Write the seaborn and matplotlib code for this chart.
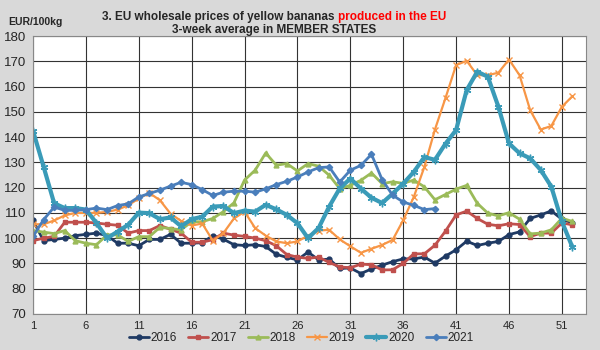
import matplotlib
matplotlib.use("Agg")
import matplotlib.pyplot as plt
import seaborn as sns
import numpy as np
import pandas as pd

weeks = list(range(1, 53))
tick_weeks = [1, 6, 11, 16, 21, 26, 31, 36, 41, 46, 51]
years = ["2016", "2017", "2018", "2019", "2020", "2021"]

p2016 = [107, 99, 99.5, 100, 101, 101.5, 102, 101, 98, 98,
         97, 99.5, 99.5, 101.5, 98, 98, 98.2, 101, 99.6, 97.4,
         97.1, 97.4, 96.7, 93.6, 92.4, 91.4, 94.5, 91.4, 91.7, 88,
         88.2, 86, 87.8, 89.3, 90.7, 91.8, 91.8, 92.5, 90.1, 92.9,
         95.4, 98.8, 97.1, 98, 98.7, 101.4, 102.5, 107.8, 109.2, 110.8, 107.5, 106]
p2017 = [99, 100, 100.7, 106.3, 106.3, 106.3, 106, 105.5, 105.1, 102,
         103, 103, 105, 103.5, 102, 98.4, 98.4, 99.4, 102, 101.2,
         100.7, 100, 99, 97, 93.5, 92.5, 92, 92.5, 90.4, 88.6,
         88.3, 89.7, 89.5, 87.4, 87.5, 90, 93.8, 93.8, 97.2, 102.8,
         109.2, 110.7, 107.8, 105.5, 104.9, 105.7, 105.4, 100.6, 102, 102, 106, 105.3]
p2018 = [103, 102.4, 101.8, 103, 99, 98, 97.4, 101.3, 101.3, 98.7,
         100.6, 100.6, 104.3, 103.8, 103.3, 106.5, 106.5, 107.8, 110.5, 114,
         123, 126.9, 133.7, 128.9, 129.5, 126.6, 129.5, 128.5, 124.9, 119.6,
         120.9, 122.9, 125.8, 121.6, 122.3, 121.7, 123, 120.3, 115.2, 117.3,
         119.4, 120.9, 113.8, 109.9, 108.8, 110.1, 107.5, 101.7, 102, 103.3, 107.9, 106.6]
p2019 = [105.5, 105.5, 107, 109, 110, 110, 110, 110.4, 111.3, 113,
         115.7, 117.9, 115, 109.7, 106.8, 105, 105.8, 99, 102, 107.8,
         110.5, 104, 101, 98.7, 98, 98.7, 101, 103, 103.3, 99.5,
         96.8, 94.2, 95.8, 97.3, 99.3, 107.1, 116.3, 128.2, 143, 155.5,
         168.5, 170.2, 164.5, 164.5, 165.5, 170.7, 164.5, 150.7, 143, 144.4, 152, 156.2]
p2020 = [142.5, 128.3, 113.8, 111.9, 111.9, 111.3, 106, 100, 102.6, 105.3,
         110.1, 109.9, 107.5, 108.2, 104.7, 107.5, 108.5, 112.5, 112.7, 109.9,
         110.9, 110.5, 113.2, 111.4, 109.2, 105.9, 100, 104, 112.5, 119.7,
         123.6, 119.6, 116, 113.9, 117.6, 121.6, 126.2, 132.1, 131, 137.4,
         142.8, 158.6, 165.9, 163.9, 152, 137.5, 133.6, 131.6, 127, 120.4, 106.6, 96.4]
p2021 = [100.7, 107.3, 112.3, 111, 111, 111.3, 111.9, 111.3, 112.9, 113.6,
         116.3, 117.7, 119, 120.6, 122.1, 121.2, 119.2, 116.9, 118.2, 118.6,
         118.6, 118.2, 119.5, 121.2, 122.5, 124.2, 126.2, 127.9, 128.2, 122.2,
         126.9, 128.8, 133.2, 123.2, 117, 114.3, 113, 111.3, 111.7]

series = [p2016, p2017, p2018, p2019, p2020, p2021]
colors = ["#1F3A64", "#C0504D", "#9BBB59", "#F79646", "#3A9BB8", "#4A7EBB"]
markers = ["o", "s", "^", "x", (6, 2, 0), "D"]
msizes = [3.5, 3.5, 3.5, 4.5, 5.5, 3.2]
lwidths = [2.0, 2.0, 2.0, 1.6, 3.0, 2.0]

sns.set_style("white")
plt.rcParams["font.family"] = ["Liberation Sans", "DejaVu Sans"]

fig = plt.figure(figsize=(6, 3.5), dpi=100, facecolor="#D9D9D9")
ax = fig.add_axes([0.055, 0.103, 0.922, 0.794])
ax.set_facecolor("white")

for yr, vals, c, m, ms, lw in zip(years, series, colors, markers, msizes, lwidths):
    df = pd.DataFrame({"week": weeks[:len(vals)], "price": vals})
    sns.lineplot(data=df, x="week", y="price", ax=ax, color=c, marker=m,
                 markersize=ms, linewidth=lw, label=yr,
                 markeredgecolor=c, markeredgewidth=1.0)

ax.set_xlim(1, 53.3)
ax.set_ylim(70, 180)
ax.set_xticks(tick_weeks)
ax.set_xticklabels([str(w) for w in tick_weeks], fontsize=8)
ax.set_yticks(range(70, 181, 10))
ax.set_yticklabels([str(v) for v in range(70, 181, 10)], fontsize=9.5)
ax.grid(True, color="#333333", linewidth=0.8)
ax.set_axisbelow(True)
ax.tick_params(axis="both", length=3, color="#333333", pad=2)
ax.set_xlabel("")
ax.set_ylabel("")
for s in ax.spines.values():
    s.set_color("#888888")
    s.set_linewidth(0.8)

leg = ax.legend(loc="center", bbox_to_anchor=(0.485, -0.087), ncol=6,
                frameon=False, fontsize=8.5, handlelength=1.7, handletextpad=0.15,
                columnspacing=0.95, borderaxespad=0, numpoints=1)

fig.text(0.013, 0.937, "EUR/100kg", fontsize=7.5, fontweight="bold", ha="left", va="center")

t1 = "3. EU wholesale prices of yellow bananas "
t2 = "produced in the EU"
fig.canvas.draw()
r = fig.canvas.get_renderer()
a = fig.text(0, 0.951, t1, fontsize=8.5, fontweight="bold", ha="left", va="center")
b = fig.text(0, 0.951, t2, fontsize=8.5, fontweight="bold", ha="left", va="center", color="#FF0000")
wa = a.get_window_extent(r).width
wb = b.get_window_extent(r).width
start = 274 - (wa + wb) / 2
a.set_x(start / 600)
b.set_x((start + wa) / 600)
fig.text(274 / 600, 0.913, "3-week average in MEMBER STATES", fontsize=8.5,
         fontweight="bold", ha="center", va="center")

fig.savefig("out.png", dpi=100, facecolor=fig.get_facecolor())
